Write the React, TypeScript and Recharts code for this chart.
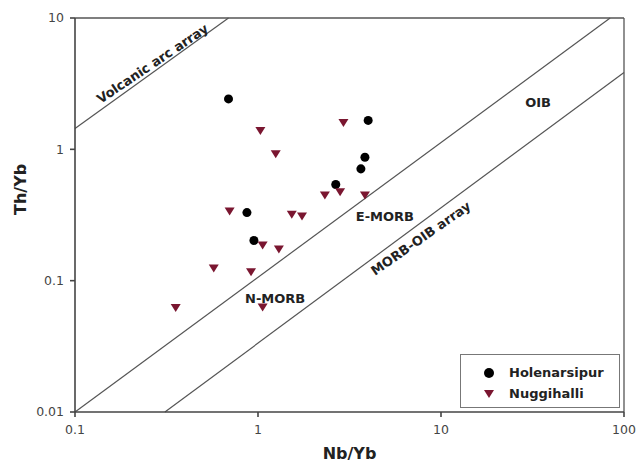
import {
  ReferenceDot,
  ReferenceLine,
  Scatter,
  ScatterChart,
  XAxis,
  YAxis,
} from 'recharts'

const xTicks = [0.1, 1, 10, 100]
const yTicks = [0.01, 0.1, 1, 10]

const holenarsipurNb = [0.69, 0.87, 0.95, 4.0, 3.84, 3.65, 2.66]
const holenarsipurTh = [2.42, 0.33, 0.202, 1.66, 0.87, 0.71, 0.54]

const nuggihalliNb = [1.03, 1.25, 0.7, 1.53, 1.74, 1.06, 1.3, 0.573, 0.916, 0.355, 1.06, 2.93, 2.32, 2.81, 3.84]
const nuggihalliTh = [1.38, 0.916, 0.336, 0.317, 0.308, 0.185, 0.173, 0.124, 0.116, 0.0618, 0.0625, 1.59, 0.445, 0.472, 0.445]

// field boundaries (Pearce-style diagram)
const volcanicArcLine = [{ x: 0.1, y: 1.44 }, { x: 0.69, y: 10 }]
const upperMorbOibLine = [{ x: 0.1, y: 0.01 }, { x: 84, y: 10 }]
const lowerMorbOibLine = [{ x: 0.31, y: 0.01 }, { x: 100, y: 3.85 }]

const fieldLabels = [
  { text: 'OIB', x: 33.9, y: 2.29, angle: 0 },
  { text: 'E-MORB', x: 4.94, y: 0.308, angle: 0 },
  { text: 'N-MORB', x: 1.24, y: 0.073, angle: 0 },
  { text: 'Volcanic arc array', x: 0.265, y: 4.5, angle: -34 },
  { text: 'MORB-OIB array', x: 7.75, y: 0.21, angle: -35 },
]

const holenarsipur = holenarsipurNb.map((nb, i) => ({ nb, th: holenarsipurTh[i] }))
const nuggihalli = nuggihalliNb.map((nb, i) => ({ nb, th: nuggihalliTh[i] }))

const FONT = '"DejaVu Sans", Verdana, sans-serif'
const AXIS_COLOR = '#444'
const LINE_COLOR = '#555'
const TRI_COLOR = '#7a1630'

const DownTriangle = (props: any) => {
  const { cx, cy } = props
  return (
    <path
      d={`M${cx - 5},${cy - 4} L${cx + 5},${cy - 4} L${cx},${cy + 4} Z`}
      fill={TRI_COLOR}
    />
  )
}

const LegendBox = () => (
  <div
    style={{
      position: 'absolute',
      left: 460,
      top: 354,
      border: '1px solid #777',
      width: 160,
      height: 54,
      boxSizing: 'border-box',
      padding: '7px 0 0 22px',
      fontFamily: FONT,
      fontWeight: 700,
      fontSize: 13,
      color: '#222',
      background: '#fff',
    }}
  >
    <div style={{ display: 'flex', alignItems: 'center', height: 21 }}>
      <svg width={12} height={12} style={{ marginRight: 14 }}>
        <circle cx={6} cy={6} r={5} fill="#000" />
      </svg>
      Holenarsipur
    </div>
    <div style={{ display: 'flex', alignItems: 'center', height: 21 }}>
      <svg width={12} height={12} style={{ marginRight: 14 }}>
        <path d="M1,2 L11,2 L6,10 Z" fill={TRI_COLOR} />
      </svg>
      Nuggihalli
    </div>
  </div>
)

export default function App() {
  return (
    <div style={{ position: 'absolute', left: 0, top: 0, width: 637, height: 465, background: '#fff' }}>
      <ScatterChart
        width={637}
        height={465}
        margin={{ top: 18, right: 13, bottom: 23, left: 15 }}
      >
        <XAxis
          type="number"
          dataKey="nb"
          scale="log"
          domain={[0.1, 100]}
          ticks={xTicks}
          allowDataOverflow
          tickFormatter={(v) => String(v)}
          tickSize={5}
          tickMargin={8}
          height={30}
          stroke={AXIS_COLOR}
          strokeWidth={1.6}
          tick={{ fill: '#444', fontSize: 12.5, fontFamily: FONT }}
          label={{
            value: 'Nb/Yb',
            position: 'insideBottom',
            offset: -17,
            fill: '#222',
            fontSize: 16,
            fontWeight: 700,
            fontFamily: FONT,
          }}
        />
        <YAxis
          type="number"
          dataKey="th"
          scale="log"
          domain={[0.01, 10]}
          ticks={yTicks}
          allowDataOverflow
          tickFormatter={(v) => String(v)}
          tickSize={5}
          tickMargin={6}
          width={60}
          stroke={AXIS_COLOR}
          strokeWidth={1.6}
          tick={{ fill: '#444', fontSize: 12.5, fontFamily: FONT }}
          label={{
            value: 'Th/Yb',
            angle: -90,
            position: 'insideLeft',
            offset: 5,
            fill: '#222',
            fontSize: 16,
            fontWeight: 700,
            fontFamily: FONT,
          }}
        />
        <ReferenceLine y={10} stroke={LINE_COLOR} strokeWidth={1.3} />
        <ReferenceLine x={100} stroke={LINE_COLOR} strokeWidth={1.3} />
        <ReferenceLine segment={volcanicArcLine} stroke={LINE_COLOR} strokeWidth={1.2} />
        <ReferenceLine segment={upperMorbOibLine} stroke={LINE_COLOR} strokeWidth={1.2} />
        <ReferenceLine segment={lowerMorbOibLine} stroke={LINE_COLOR} strokeWidth={1.2} />
        {fieldLabels.map((f) => (
          <ReferenceDot
            key={f.text}
            x={f.x}
            y={f.y}
            r={0}
            fill="none"
            stroke="none"
            label={{
              value: f.text,
              position: 'center',
              angle: f.angle,
              fill: '#222',
              fontSize: 13,
              fontWeight: 700,
              fontFamily: FONT,
            }}
          />
        ))}
        <Scatter
          name="Holenarsipur"
          data={holenarsipur}
          fill="#000"
          shape="circle"
          isAnimationActive={false}
        />
        <Scatter
          name="Nuggihalli"
          data={nuggihalli}
          fill={TRI_COLOR}
          shape={DownTriangle}
          isAnimationActive={false}
        />
      </ScatterChart>
      <LegendBox />
    </div>
  )
}
